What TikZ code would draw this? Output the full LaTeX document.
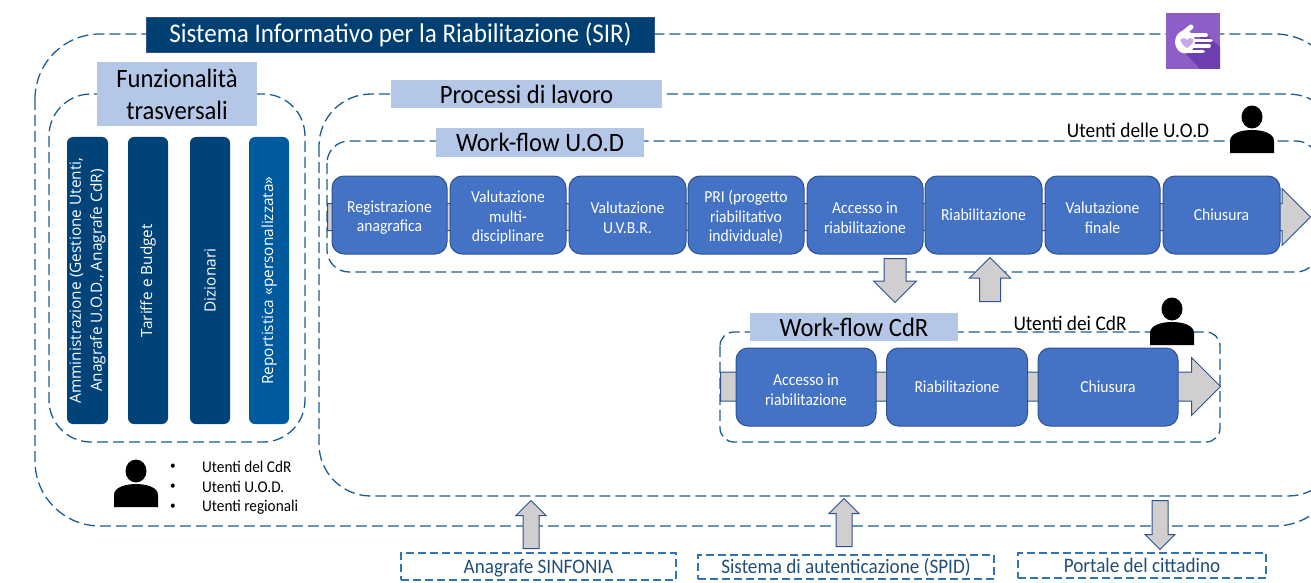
\documentclass[tikz,border=0pt]{standalone}
\usepackage{fontspec}
\setmainfont[FakeStretch=0.93]{Carlito}
\newfontfamily\barfont{Open Sans}
\usetikzlibrary{shapes.arrows}

\definecolor{framecol}{HTML}{1F5C92}
\definecolor{titlecol}{HTML}{003F72}
\definecolor{labelcol}{HTML}{B4C7E7}
\definecolor{barcol}{HTML}{004379}
\definecolor{barlight}{HTML}{005A9E}
\definecolor{boxcol}{HTML}{4472C4}
\definecolor{boxline}{HTML}{2F528F}
\definecolor{arrowcol}{HTML}{D0CECE}
\definecolor{extcol}{HTML}{2E75B6}
\definecolor{exttext}{HTML}{1F4E79}
\definecolor{iconcol}{HTML}{8E5EC8}
\definecolor{iconshade}{HTML}{6F3FB0}
\definecolor{iconheart}{HTML}{C9A8E6}

\newcommand{\steptop}{\rule{0pt}{17pt}}

\tikzset{
    frame/.style={draw=framecol, line width=1.3pt, dash pattern=on 11pt off 5pt},
    titlebox/.style={draw=boxline, line width=1pt, fill=titlecol, text=white, inner sep=0pt, minimum width=508pt, minimum height=35pt, text height=21.5pt, text depth=5.5pt, font=\fontsize{27}{30}\selectfont},
    labelbox/.style={fill=labelcol, inner sep=0pt, align=center, font=\fontsize{26.5}{32}\selectfont},
    barbox/.style={fill=barcol, rounded corners=6pt, inner sep=0pt, minimum width=287pt, align=center, rotate=90, text=white, font=\barfont\fontsize{15.4}{21}\selectfont},
    stepbox/.style={draw=boxline, line width=1pt, fill=boxcol, rounded corners=12pt, inner sep=0pt, minimum height=78pt, text=white, align=center, font=\fontsize{16.8}{19.5}\selectfont},
    flow/.style={single arrow, anchor=tail, draw=boxline, line width=1pt, fill=arrowcol, single arrow head indent=0pt},
    usertext/.style={inner sep=0pt, font=\fontsize{20.8}{22}\selectfont},
    listtext/.style={inner sep=0pt, anchor=west, font=\fontsize{16.4}{18}\selectfont},
    extbox/.style={draw=extcol, line width=1.1pt, dash pattern=on 8pt off 4pt, inner sep=0pt, text height=17pt, text depth=4pt, text=exttext, font=\fontsize{20.6}{22}\selectfont},
    person/.pic={
        \fill[black] (0,-36) ellipse (10.5pt and 11.5pt);
        \fill[black] (-22,0) -- (-22,-12) .. controls (-22,-20) and (-10,-23) .. (0,-23) .. controls (10,-23) and (22,-20) .. (22,-12) -- (22,0) -- cycle;
    }
}

\begin{document}
\begin{tikzpicture}[x=1pt,y=-1pt]
        \clip (0,0) rectangle (1311,583);

        % frames
        \draw[frame, rounded corners=65pt] (35,34) rectangle (1340,526);
        \draw[frame, rounded corners=42pt] (49,94) rectangle (305,442);
        \draw[frame, rounded corners=52pt] (319,94) rectangle (1340,496);
        \draw[frame, rounded corners=22pt] (327,141) rectangle (1318,272);
        \draw[frame, rounded corners=14pt] (720,332) rectangle (1220,442);

        % arrows behind the boxes
        \node[flow, inner sep=13pt, minimum height=983pt, single arrow head extend=15pt] (flowuod) at (327,217) {};
        \node[flow, inner sep=14pt, minimum height=500pt, single arrow head extend=14.5pt] (flowcdr) at (720,386.5) {};
        \node[flow, inner sep=10.5pt, shape border rotate=270, minimum height=44pt, single arrow head extend=10.5pt] (todown) at (895,258) {};
        \node[flow, inner sep=10pt, shape border rotate=90, minimum height=44pt, single arrow head extend=10pt] (toup) at (990,302) {};
        \node[flow, inner sep=7.5pt, shape border rotate=90, minimum height=48pt, single arrow head extend=7pt] (fromsinf) at (531,549) {};
        \node[flow, inner sep=7.5pt, shape border rotate=90, minimum height=48pt, single arrow head extend=7pt] (fromspid) at (844,547) {};
        \node[flow, inner sep=7.5pt, shape border rotate=270, minimum height=49pt, single arrow head extend=7pt] (toport) at (1160,500) {};

        % title, icon and labels
        \node[titlebox] (title) at (400.5,35) {Sistema Informativo per la Riabilitazione (SIR)};
        \node[fill=iconcol, inner sep=0pt, minimum width=54pt, minimum height=56pt] (icon) at (1193,41) {};
        \fill[iconshade] (1205,33) -- (1220,47) -- (1220,69) -- (1200,69) -- (1185,53) -- cycle;
        \fill[white] (1185,42) ellipse (10pt and 11.5pt);
        \draw[white, line width=5pt, line cap=round] (1180,36) -- (1191,27);
        \draw[white, line width=3.8pt, line cap=round] (1188,35) -- (1206,35);
        \draw[white, line width=3.8pt, line cap=round] (1188,40.5) -- (1211,40.5);
        \draw[white, line width=3.8pt, line cap=round] (1188,46) -- (1209,46);
        \draw[white, line width=3.8pt, line cap=round] (1185,51.5) -- (1203,51.5);
        \fill[iconheart] (1187,48) .. controls (1181,44) and (1180,41) .. (1181,39) .. controls (1183,37) and (1186,38) .. (1187,40) .. controls (1188,38) and (1191,37) .. (1193,39) .. controls (1194,41) and (1193,44) .. (1187,48) -- cycle;

        \node[labelbox, minimum width=160pt, minimum height=64pt] (funz) at (177,94) {Funzionalità\\trasversali};
        \node[labelbox, minimum width=271pt, minimum height=28pt] (proc) at (526.5,94) {Processi di lavoro};
        \node[labelbox, minimum width=208pt, minimum height=29pt] (wfuod) at (540,142.5) {Work-flow U.O.D};
        \node[labelbox, minimum width=208pt, minimum height=28pt] (wfcdr) at (854,327) {Work-flow CdR};

        % bars
        \node[barbox, minimum height=41pt] (admin) at (87.5,280.5) {Amministrazione (Gestione Utenti,\\Anagrafe U.O.D., Anagrafe CdR)};
        \node[barbox, minimum height=40pt] (tariffe) at (148,280.5) {Tariffe e Budget};
        \node[barbox, minimum height=40pt] (diz) at (210,280.5) {Dizionari};
        \node[barbox, fill=barlight, minimum height=40pt] (report) at (269,280.5) {Reportistica «personalizzata»};

        % work-flow U.O.D
        \node[stepbox, minimum width=115pt] (reg) at (389.5,215) {\steptop Registrazione\\anagrafica};
        \node[stepbox, minimum width=116pt] (valmulti) at (508,215) {\steptop Valutazione\\multi-\\disciplinare};
        \node[stepbox, minimum width=117pt] (valuvbr) at (627.5,215) {\steptop Valutazione\\U.V.B.R.};
        \node[stepbox, minimum width=116pt] (pri) at (746,215) {\steptop PRI (progetto\\riabilitativo\\individuale)};
        \node[stepbox, minimum width=116pt] (accuod) at (865,215) {\steptop Accesso in\\riabilitazione};
        \node[stepbox, minimum width=117pt] (riauod) at (983.5,215) {Riabilitazione};
        \node[stepbox, minimum width=115pt] (valfin) at (1102.5,215) {\steptop Valutazione\\finale};
        \node[stepbox, minimum width=117pt] (chiuod) at (1221.5,215) {Chiusura};

        % work-flow CdR
        \node[stepbox, minimum width=140pt] (acccdr) at (806,387) {\steptop Accesso in\\riabilitazione};
        \node[stepbox, minimum width=141pt] (riacdr) at (957,387) {Riabilitazione};
        \node[stepbox, minimum width=140pt] (chicdr) at (1108,387) {Chiusura};

        % users
        \node[usertext] (utuod) at (1138,130) {Utenti delle U.O.D};
        \pic at (1252,153) {person};
        \node[usertext] (utcdr) at (1070,323) {Utenti dei CdR};
        \pic at (1172,345) {person};
        \pic at (136,507) {person};
        \node[listtext, font=\fontsize{12}{14}\selectfont] (dotone) at (170,467) {•};
        \node[listtext, font=\fontsize{12}{14}\selectfont] (dottwo) at (170,486.5) {•};
        \node[listtext, font=\fontsize{12}{14}\selectfont] (dotthree) at (170,506.5) {•};
        \node[listtext] (utdel) at (202,467) {Utenti del CdR};
        \node[listtext] (utreg) at (202,487) {Utenti U.O.D.};
        \node[listtext] (utrgn) at (202,507) {Utenti regionali};

        % external systems
        \node[extbox, minimum width=275pt, minimum height=27pt] (sinf) at (538.5,566.5) {Anagrafe SINFONIA};
        \node[extbox, minimum width=296pt, minimum height=24pt] (spid) at (846,567) {Sistema di autenticazione (SPID)};
        \node[extbox, minimum width=248pt, minimum height=25pt] (port) at (1142,565.5) {Portale del cittadino};

    \end{tikzpicture}
\end{document}
